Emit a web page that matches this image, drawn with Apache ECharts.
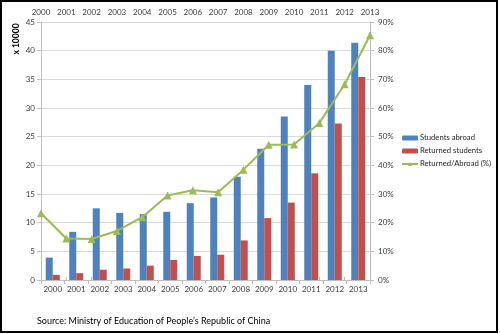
<!DOCTYPE html>
<html>
<head>
<meta charset="utf-8">
<script src="https://cdn.jsdelivr.net/npm/echarts@6/dist/echarts.min.js"></script>
<style>
  html, body { margin: 0; padding: 0; background: #fff; }
  #chart { width: 500px; height: 334px; }
</style>
</head>
<body>
<div id="chart"></div>
<script>
// Chinese students going abroad and returning, 2000-2013 (in units of 10,000)
const years = ['2000','2001','2002','2003','2004','2005','2006','2007','2008','2009','2010','2011','2012','2013'];
const studentsAbroad = [3.9, 8.4, 12.5, 11.7, 11.5, 11.9, 13.4, 14.4, 18.0, 22.9, 28.5, 34.0, 40.0, 41.4];
const returnedStudents = [0.9, 1.2, 1.8, 2.0, 2.5, 3.5, 4.2, 4.4, 6.9, 10.8, 13.5, 18.6, 27.3, 35.4];
const returnedRatio = [23.3, 14.5, 14.3, 17.1, 21.9, 29.5, 31.3, 30.6, 38.5, 47.2, 47.3, 54.8, 68.3, 85.4];
const leftTicks = { min: 0, max: 45, step: 5 };
const rightTicks = { min: 0, max: 90, step: 10 };

const FONT = 'Lato, "Open Sans", sans-serif';
const labelStyle = { fontFamily: FONT, fontSize: 8, color: '#404040' };
const axisGrey = '#bfbfbf';

const chart = echarts.init(document.getElementById('chart'), null, { renderer: 'canvas' });

chart.setOption({
  animation: false,
  backgroundColor: '#ffffff',
  grid: { left: 41, right: 130, top: 22, bottom: 54 },
  legend: {
    orient: 'vertical',
    left: 401,
    top: 134,
    padding: 0,
    itemWidth: 16,
    itemHeight: 5,
    itemGap: 5,
    textStyle: { fontFamily: FONT, fontSize: 7.7, color: '#262626', padding: [0, 0, 0, -3] },
    data: ['Students abroad', 'Returned students', 'Returned/Abroad (%)']
  },
  xAxis: [
    {
      type: 'category',
      position: 'bottom',
      data: years,
      boundaryGap: true,
      axisLine: { lineStyle: { color: axisGrey, width: 1 } },
      axisTick: { show: true, length: 4, lineStyle: { color: axisGrey } },
      axisLabel: Object.assign({ margin: 5, interval: 0 }, labelStyle)
    },
    {
      type: 'category',
      position: 'top',
      data: years,
      boundaryGap: false,
      axisLine: { show: true, lineStyle: { color: axisGrey, width: 1 } },
      axisTick: { show: true, length: 3, lineStyle: { color: axisGrey } },
      axisLabel: Object.assign({ margin: 6, interval: 0 }, labelStyle)
    }
  ],
  yAxis: [
    {
      type: 'value',
      position: 'left',
      min: leftTicks.min,
      max: leftTicks.max,
      interval: leftTicks.step,
      axisLine: { show: true, lineStyle: { color: axisGrey, width: 1 } },
      axisTick: { show: true, length: 4, lineStyle: { color: axisGrey } },
      axisLabel: Object.assign({ margin: 6 }, labelStyle),
      splitLine: { show: true, lineStyle: { color: '#d9d9d9', width: 1 } }
    },
    {
      type: 'value',
      position: 'right',
      min: rightTicks.min,
      max: rightTicks.max,
      interval: rightTicks.step,
      axisLine: { show: true, lineStyle: { color: axisGrey, width: 1 } },
      axisTick: { show: true, length: 4, lineStyle: { color: axisGrey } },
      axisLabel: Object.assign({ margin: 8, formatter: '{value}%' }, labelStyle),
      splitLine: { show: false }
    }
  ],
  series: [
    {
      name: 'Students abroad',
      type: 'bar',
      xAxisIndex: 0,
      yAxisIndex: 0,
      data: studentsAbroad,
      barWidth: 7,
      barGap: '0%',
      itemStyle: { color: '#4f81bd' }
    },
    {
      name: 'Returned students',
      type: 'bar',
      xAxisIndex: 0,
      yAxisIndex: 0,
      data: returnedStudents,
      barWidth: 7,
      barGap: '0%',
      itemStyle: { color: '#c0504d' }
    },
    {
      name: 'Returned/Abroad (%)',
      type: 'line',
      xAxisIndex: 1,
      yAxisIndex: 1,
      data: returnedRatio,
      symbol: 'triangle',
      symbolSize: 8,
      showAllSymbol: true,
      clip: false,
      lineStyle: { color: '#9bbb59', width: 2 },
      itemStyle: { color: '#9bbb59' },
      z: 5
    }
  ],
  graphic: [
    {
      type: 'text',
      x: 16,
      y: 39,
      rotation: Math.PI / 2,
      style: {
        text: 'x 10000',
        fontFamily: FONT,
        fontSize: 8.5,
        fontWeight: 'bold',
        fill: '#000',
        align: 'center',
        verticalAlign: 'middle'
      }
    },
    {
      type: 'text',
      x: 37,
      y: 321,
      style: {
        text: 'Source: Ministry of Education of People\u2019s Republic of China',
        fontFamily: FONT,
        fontSize: 9,
        fill: '#000',
        align: 'left',
        verticalAlign: 'middle'
      }
    },
    {
      type: 'rect',
      shape: { x: 1, y: 1, width: 496, height: 331 },
      style: { fill: 'none', stroke: '#000', lineWidth: 2 },
      silent: true
    }
  ]
});
</script>
</body>
</html>
